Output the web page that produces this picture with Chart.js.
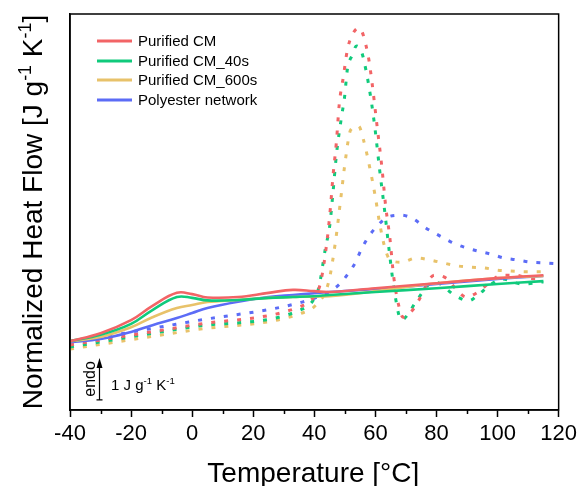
<!DOCTYPE html>
<html>
<head>
<meta charset="utf-8">
<title>DSC curves</title>
<script src="https://cdn.jsdelivr.net/npm/chart.js@4.4.0/dist/chart.umd.min.js"></script>
<style>
  html, body { margin: 0; padding: 0; background: #fff; }
  #wrap { width: 581px; height: 486px; }
</style>
</head>
<body>
<div id="wrap"><canvas id="ctx" width="581" height="486"></canvas></div>
<script>
// temperature ticks (°C)
const tempTicks = [-40, -20, 0, 20, 40, 60, 80, 100, 120];
const seriesNames = ['Purified CM', 'Purified CM_40s', 'Purified CM_600s', 'Polyester network'];

// solid curves share one temperature grid
const solidT = [-40, -30, -20, -13, -5, 0, 5, 15, 25, 33, 40, 45, 60, 80, 100, 115];
const cmSolid    = [1.64, 1.83, 2.14, 2.48, 2.79, 2.76, 2.68, 2.69, 2.79, 2.86, 2.83, 2.81, 2.90, 3.02, 3.14, 3.21];
const cm40Solid  = [1.64, 1.79, 2.05, 2.38, 2.69, 2.67, 2.61, 2.62, 2.67, 2.69, 2.71, 2.74, 2.81, 2.90, 3.00, 3.07];
const cm600Solid = [1.64, 1.74, 1.97, 2.21, 2.43, 2.50, 2.57, 2.62, 2.67, 2.69, 2.70, 2.71, 2.83, 3.02, 3.14, 3.19];
const polySolid  = [1.62, 1.69, 1.86, 2.02, 2.19, 2.31, 2.43, 2.58, 2.69, 2.74, 2.78, 2.81, 2.88, 3.00, 3.12, 3.19];

// dashed curves
const cmDashT = [-40, 0, 36, 39, 42, 44.2, 45.2, 46.2, 47.2, 48.2, 49.5, 50.8, 52.4, 54.6, 57.6, 58.9, 60.5, 62.1, 63.4, 64.7, 66, 67.6, 69, 72.2, 74.1, 79.3, 83.2, 86.4, 89.7, 93.6, 97.2, 101.1, 106, 110, 115];
const cmDash  = [1.55, 2.02, 2.48, 2.62, 3.02, 4.05, 4.76, 5.64, 6.36, 7.31, 7.93, 8.57, 8.93, 9.10, 8.45, 7.79, 6.79, 5.79, 4.83, 4.12, 3.17, 2.50, 2.21, 2.38, 2.60, 3.21, 3.14, 2.88, 2.69, 2.81, 3.02, 3.21, 3.21, 3.14, 3.12];

const cm40DashT = [-40, 0, 36, 39.5, 41.5, 43.7, 45, 46.1, 47.3, 48.9, 49.9, 50.8, 52.4, 53.8, 55.5, 57.1, 58.6, 59.8, 61.4, 63, 64.6, 66.3, 68.5, 71, 73, 79.3, 86.4, 90.6, 93.6, 97.6, 101.3, 108, 115];
const cm40Dash  = [1.50, 1.98, 2.40, 2.60, 2.93, 3.88, 4.36, 5.17, 6.12, 6.98, 7.45, 8.10, 8.45, 8.67, 8.52, 8.02, 7.38, 6.74, 5.71, 4.76, 3.74, 2.79, 2.14, 2.31, 2.55, 3.05, 2.71, 2.60, 2.74, 2.98, 3.12, 3.00, 3.05];

const cm600DashT = [-40, 0, 36, 40.5, 44.7, 47, 48.6, 50.3, 51.9, 54.5, 56.1, 58.1, 60, 61.3, 63.3, 64.9, 68.5, 73.4, 78, 82.3, 87, 91.3, 95.9, 100, 104.4, 109.3, 115];
const cm600Dash  = [1.45, 1.90, 2.31, 2.50, 3.05, 4.05, 5.00, 6.02, 6.67, 6.76, 6.43, 5.79, 5.07, 4.48, 3.81, 3.57, 3.52, 3.62, 3.57, 3.50, 3.43, 3.40, 3.38, 3.33, 3.31, 3.29, 3.29];

const polyDashT = [-40, 0, 36, 44.7, 48, 51.2, 53.5, 55.4, 57.7, 60.3, 64.2, 68.5, 72.4, 76.6, 80.5, 84.8, 89, 93.3, 97.9, 102.1, 106.7, 111, 115.5, 120];
const polyDash  = [1.60, 2.11, 2.57, 2.81, 2.98, 3.26, 3.52, 3.83, 4.12, 4.36, 4.60, 4.64, 4.55, 4.33, 4.17, 4.00, 3.88, 3.79, 3.71, 3.62, 3.57, 3.52, 3.50, 3.48];

const colors = ['#f26466', '#10ca7c', '#e8c26a', '#5c6cf6'];
const FONT = 'Arial, "Liberation Sans", sans-serif';

function toPoints(ts, ys) {
  return ts.map((t, i) => ({ x: t, y: ys[i] }));
}

function curve(label, color, ts, ys, dashed) {
  return {
    label,
    data: toPoints(ts, ys),
    borderColor: color,
    backgroundColor: color,
    borderWidth: dashed ? 3 : 2.6,
    borderDash: dashed ? [4, 9] : [],
    borderCapStyle: 'butt',
    pointRadius: 0,
    fill: false,
    // the steep scan peaks need monotone splines, the slow baselines a plain cubic
    cubicInterpolationMode: dashed ? 'monotone' : 'default',
    tension: 0.4,
    inLegend: !dashed
  };
}

function fontPx(size) {
  return size + 'px ' + FONT;
}

// text with superscripts, parts = [{t, sup}]
function richWidth(ctx, parts, size) {
  let w = 0;
  for (const p of parts) {
    ctx.font = fontPx(p.sup ? size * 0.64 : size);
    w += ctx.measureText(p.t).width;
  }
  return w;
}

function drawRich(ctx, parts, x, y, size) {
  ctx.textAlign = 'left';
  ctx.textBaseline = 'alphabetic';
  for (const p of parts) {
    ctx.font = fontPx(p.sup ? size * 0.64 : size);
    ctx.fillText(p.t, x, p.sup ? y - size * 0.4 : y);
    x += ctx.measureText(p.t).width;
  }
}

const decor = {
  id: 'decor',
  afterDraw(chart) {
    const { ctx, chartArea: a, scales: { x, y } } = chart;
    ctx.save();
    ctx.fillStyle = '#000';
    ctx.strokeStyle = '#000';

    // frame
    ctx.lineWidth = 1.5;
    ctx.strokeRect(a.left, a.top, a.right - a.left, a.bottom - a.top);

    // minor ticks
    for (let v = -30; v < 120; v += 20) {
      const px = Math.round(x.getPixelForValue(v)) + 0.5;
      ctx.beginPath();
      ctx.moveTo(px, a.bottom);
      ctx.lineTo(px, a.bottom + 4);
      ctx.stroke();
    }

    // axis titles
    ctx.font = fontPx(28);
    ctx.textAlign = 'center';
    ctx.textBaseline = 'alphabetic';
    ctx.fillText('Temperature [°C]', (a.left + a.right) / 2 - 1, 482);

    const yTitle = [
      { t: 'Normalized Heat Flow [J g' }, { t: '-1', sup: true },
      { t: ' K' }, { t: '-1', sup: true }, { t: ']' }
    ];
    ctx.save();
    ctx.translate(42, (a.top + a.bottom) / 2);
    ctx.rotate(-Math.PI / 2);
    drawRich(ctx, yTitle, -richWidth(ctx, yTitle, 28) / 2, 0, 28);
    ctx.restore();

    // legend
    const rows = [41, 61, 80, 100];
    chart.data.datasets.filter(d => d.inLegend).forEach((d, i) => {
      ctx.strokeStyle = d.borderColor;
      ctx.lineWidth = 3;
      ctx.beginPath();
      ctx.moveTo(97, rows[i]);
      ctx.lineTo(132, rows[i]);
      ctx.stroke();
      ctx.fillStyle = '#000';
      ctx.font = fontPx(15);
      ctx.textAlign = 'left';
      ctx.textBaseline = 'middle';
      ctx.fillText(d.label, 138, rows[i] + 1);
    });

    // endo arrow, 1 unit tall
    const ax = Math.round(x.getPixelForValue(-30.4)) + 0.5;
    const y0 = y.getPixelForValue(0.24);
    const y1 = y.getPixelForValue(1.24);
    ctx.strokeStyle = '#000';
    ctx.fillStyle = '#000';
    ctx.lineWidth = 1.2;
    ctx.beginPath();
    ctx.moveTo(ax, y0);
    ctx.lineTo(ax, y1 + 8);
    ctx.moveTo(ax - 3, y0);
    ctx.lineTo(ax + 3, y0);
    ctx.stroke();
    ctx.beginPath();
    ctx.moveTo(ax, y1);
    ctx.lineTo(ax - 3, y1 + 10);
    ctx.lineTo(ax + 3, y1 + 10);
    ctx.closePath();
    ctx.fill();

    ctx.save();
    ctx.translate(95, (y0 + y1) / 2);
    ctx.rotate(-Math.PI / 2);
    ctx.font = fontPx(16);
    ctx.textAlign = 'center';
    ctx.textBaseline = 'alphabetic';
    ctx.fillText('endo', 0, 0);
    ctx.restore();

    drawRich(ctx, [
      { t: '1 J g' }, { t: '-1', sup: true }, { t: ' K' }, { t: '-1', sup: true }
    ], 111, 390, 15);

    ctx.restore();
  }
};

const datasets = [
  curve(seriesNames[0], colors[0], solidT, cmSolid, false),
  curve(seriesNames[1], colors[1], solidT, cm40Solid, false),
  curve(seriesNames[2], colors[2], solidT, cm600Solid, false),
  curve(seriesNames[3], colors[3], solidT, polySolid, false),
  curve(seriesNames[0], colors[0], cmDashT, cmDash, true),
  curve(seriesNames[1], colors[1], cm40DashT, cm40Dash, true),
  curve(seriesNames[2], colors[2], cm600DashT, cm600Dash, true),
  curve(seriesNames[3], colors[3], polyDashT, polyDash, true)
];

new Chart(document.getElementById('ctx'), {
  type: 'line',
  data: { datasets },
  options: {
    responsive: false,
    animation: false,
    devicePixelRatio: 1,
    layout: { padding: { top: 14, right: 20, left: 0, bottom: 0 } },
    plugins: { legend: { display: false }, tooltip: { enabled: false } },
    scales: {
      x: {
        type: 'linear',
        min: tempTicks[0],
        max: tempTicks[tempTicks.length - 1],
        afterBuildTicks(scale) {
          scale.ticks = tempTicks.map(v => ({ value: v }));
        },
        ticks: {
          color: '#000',
          font: { size: 22, family: FONT },
          padding: 4,
          maxRotation: 0,
          autoSkip: false
        },
        grid: {
          display: true,
          drawOnChartArea: false,
          drawTicks: true,
          tickLength: 7,
          tickWidth: 1.5,
          tickColor: '#000'
        },
        border: { display: true, color: '#000', width: 1.5 },
        afterFit(scale) { scale.height = 76; }
      },
      y: {
        min: 0,
        max: 9.43,
        ticks: { display: false },
        grid: { display: false, drawTicks: false },
        border: { display: true, color: '#000', width: 1.5 },
        afterFit(scale) { scale.width = 70; }
      }
    }
  },
  plugins: [decor]
});
</script>
</body>
</html>
